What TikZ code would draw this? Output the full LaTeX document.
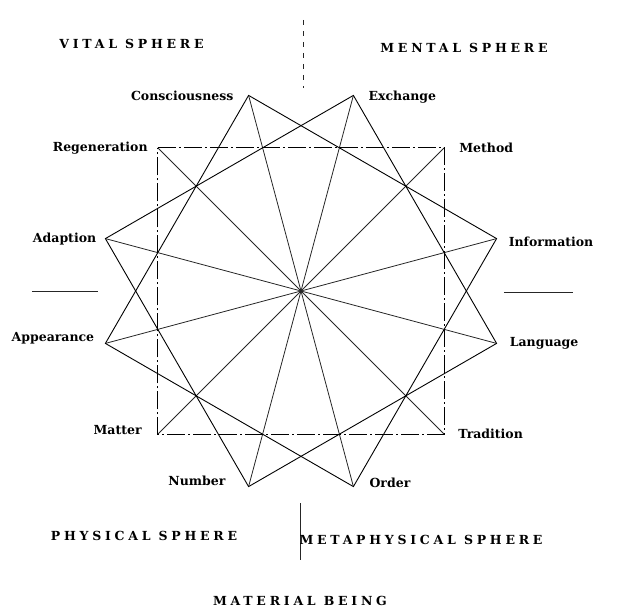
\documentclass[tikz,border=0pt]{standalone}
\usepackage{fontspec}
\setmainfont{DejaVu Serif}
\usetikzlibrary{positioning}

\tikzset{
  spoke/.style={line width=0.8pt, black!85},
  figline/.style={line width=0.9pt, line join=miter},
  squareline/.style={line width=0.7pt, dash pattern=on 18pt off 3pt on 2pt off 3pt},
  axisline/.style={line width=0.9pt, black!85},
  term/.style={font=\bfseries\fontsize{12.5}{14}\selectfont, inner sep=0pt},
  sphere/.style={font=\bfseries\fontsize{12.5}{14}\selectfont\addfontfeature{LetterSpace=30}, inner sep=0pt},
}

\begin{document}
\begin{tikzpicture}[x=1pt,y=1pt]
  \useasboundingbox (-301,-320) rectangle (321,291);

  % the twelve points of the wheel
  \coordinate (centre) at (0,0);
  \coordinate (cons)  at (105:202.5pt);
  \coordinate (exch)  at (75:202.5pt);
  \coordinate (meth)  at (45:202.5pt);
  \coordinate (info)  at (15:202.5pt);
  \coordinate (lang)  at (-15:202.5pt);
  \coordinate (trad)  at (-45:202.5pt);
  \coordinate (ord)   at (-75:202.5pt);
  \coordinate (num)   at (-105:202.5pt);
  \coordinate (mat)   at (-135:202.5pt);
  \coordinate (app)   at (-165:202.5pt);
  \coordinate (adap)  at (165:202.5pt);
  \coordinate (regen) at (135:202.5pt);

  % labels of the points
  \node[term, left=15pt of cons]  (consL)  {Consciousness};
  \node[term, right=15pt of exch, yshift=-2pt] (exchL) {Exchange};
  \node[term, right=15pt of meth] (methL)  {Method};
  \node[term, right=12pt of info, yshift=-3pt] (infoL) {Information};
  \node[term, right=13pt of lang] (langL)  {Language};
  \node[term, right=14pt of trad] (tradL)  {Tradition};
  \node[term, right=16pt of ord, yshift=4pt] (ordL) {Order};
  \node[term, left=23pt of num, yshift=6pt] (numL) {Number};
  \node[term, left=16pt of mat, yshift=4pt] (matL) {Matter};
  \node[term, left=11pt of app, yshift=5pt] (appL) {Appearance};
  \node[term, left=9pt of adap]   (adapL)  {Adaption};
  \node[term, left=10pt of regen] (regenL) {Regeneration};

  % spokes through the centre
  \draw[spoke] (cons) -- (ord);
  \draw[spoke] (exch) -- (num);
  \draw[spoke] (meth) -- (mat);
  \draw[spoke] (info) -- (app);
  \draw[spoke] (lang) -- (adap);
  \draw[spoke] (trad) -- (regen);

  % the three squares
  \draw[figline] (cons) -- (info) -- (ord) -- (app) -- cycle;
  \draw[figline] (exch) -- (lang) -- (num) -- (adap) -- cycle;
  \draw[squareline] (regen) -- (meth) -- (trad) -- (mat) -- cycle;

  % axis marks
  \coordinate (topA) at (2,271);
  \coordinate (topB) at (2,203);
  \coordinate (leftA) at (-269,-0.7);
  \coordinate (leftB) at (-203,-0.7);
  \coordinate (rightA) at (203,-1);
  \coordinate (rightB) at (272,-1);
  \coordinate (botA) at (-1,-212);
  \coordinate (botB) at (-1,-269);
  \draw[axisline, dash pattern=on 5pt off 6pt] (topA) -- (topB);
  \draw[axisline] (leftA) -- (leftB);
  \draw[axisline] (rightA) -- (rightB);
  \draw[axisline] (botA) -- (botB);

  % spheres
  \node[sphere] (vital)    at (-169.5,247)  {VITAL SPHERE};
  \node[sphere] (mental)   at (163,243)     {MENTAL SPHERE};
  \node[sphere] (physical) at (-157,-244.5) {PHYSICAL SPHERE};
  \node[sphere] (metaph)   at (120,-248.5)  {METAPHYSICAL SPHERE};
  \node[sphere] (material) at (-1,-310)     {MATERIAL BEING};
\end{tikzpicture}
\end{document}
